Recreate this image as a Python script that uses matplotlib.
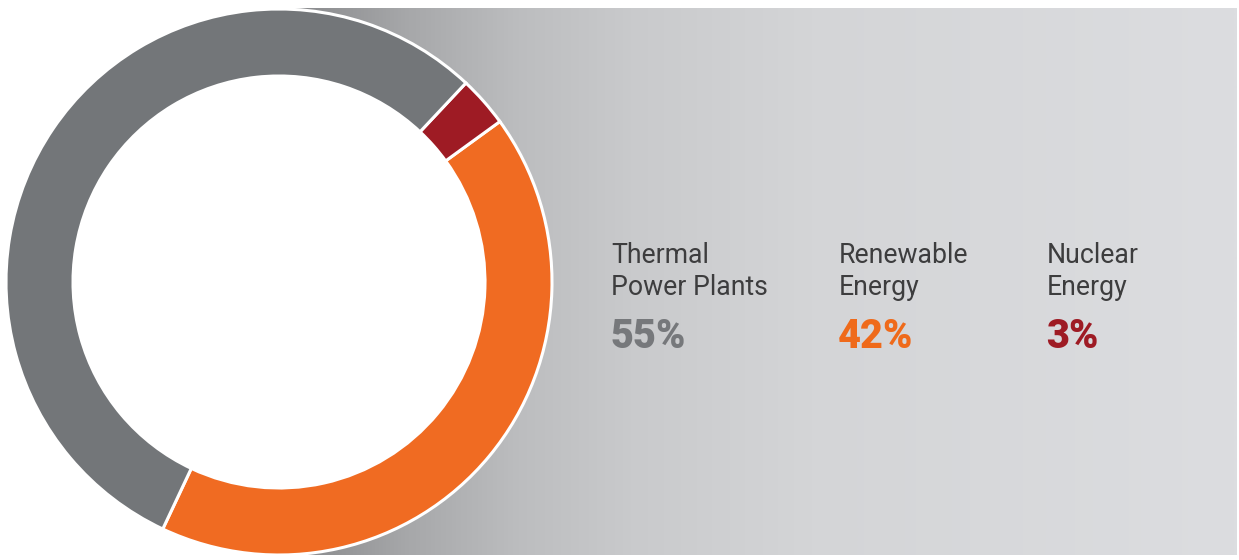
import numpy as np
import matplotlib
matplotlib.use("Agg")
import matplotlib.pyplot as plt
from matplotlib.colors import LinearSegmentedColormap
from matplotlib.patches import Circle

# ---- data ----
categories = ["Thermal\nPower Plants", "Renewable\nEnergy", "Nuclear\nEnergy"]
shares = [55, 42, 3]
pct_labels = ["55%", "42%", "3%"]
colors = ["#737679", "#f06b22", "#9e1b24"]
text_colors = ["#76787b", "#ef6a1a", "#9e1b24"]

W, H = 1239, 560
fig = plt.figure(figsize=(W / 100, H / 100), dpi=100)
ax = fig.add_axes([0, 0, 1, 1])
ax.set_xlim(0, W)
ax.set_ylim(0, H)
ax.set_aspect("equal")
ax.axis("off")

# gradient background panel
grad = LinearSegmentedColormap.from_list(
    "bg",
    [(0.0, "#87888b"), (0.12, "#a6a7a9"), (0.24, "#bcbdbf"),
     (0.36, "#c9cacc"), (0.55, "#d4d5d7"), (1.0, "#dcdde0")])
x = np.linspace(0, 1, 512).reshape(1, -1)
ax.imshow(x, cmap=grad, aspect="auto", extent=[290, 1237, 560 - 555, 560 - 8],
          interpolation="bilinear", zorder=0)

cx, cy, R, ring = 279, 560 - 282, 273, 67
ax.add_patch(Circle((cx, cy), R - ring, facecolor="white", edgecolor="none", zorder=1))

# donut (order drawn counter-clockwise from the bottom: renewable, nuclear, thermal)
order = [1, 2, 0]
wedges, _ = ax.pie([shares[i] for i in order], colors=[colors[i] for i in order],
                   center=(cx, cy), radius=R, startangle=-115.2, counterclock=True,
                   wedgeprops=dict(width=ring, edgecolor="white", linewidth=2.2), frame=True)
for w in wedges:
    w.set_zorder(2)
ax.set_xlim(0, W)
ax.set_ylim(0, H)
ax.axis("off")

xs = [611, 839, 1047]
for xi, cat, pl, tc in zip(xs, categories, pct_labels, text_colors):
    l1, l2 = cat.split("\n")
    ax.text(xi, 560 - 263, l1, fontsize=19.2, family="Roboto", color="#3d3d3e",
            va="baseline", ha="left", zorder=5)
    ax.text(xi, 560 - 295, l2, fontsize=19.2, family="Roboto", color="#3d3d3e",
            va="baseline", ha="left", zorder=5)
    ax.text(xi - 1, 560 - 348, pl, fontsize=28.5, family="Roboto", weight="black",
            color=tc, va="baseline", ha="left", zorder=5)

fig.savefig("out.png", dpi=100, facecolor="white")
